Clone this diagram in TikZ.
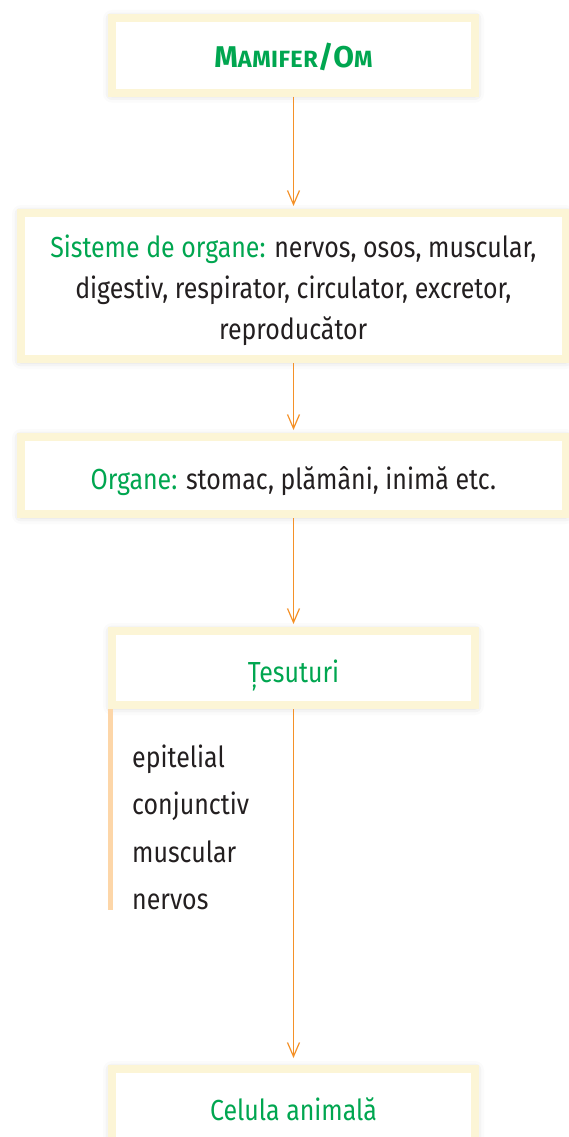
\documentclass[tikz,border=0pt]{standalone}
\usepackage{fontspec}
\setmainfont{Fira Sans}[FakeStretch=0.86]
\newfontfamily\headfont{Fira Sans}[LetterSpace=2]
\usetikzlibrary{arrows.meta,shadows.blur}
\definecolor{leaf}{RGB}{0,166,80}
\definecolor{ink}{RGB}{35,31,32}
\definecolor{frame}{RGB}{252,245,214}
\definecolor{wire}{RGB}{244,145,40}
\definecolor{peach}{RGB}{253,214,168}
\begin{document}
\begin{tikzpicture}[x=1pt,y=-1pt,
  panel/.style={draw=frame, line width=8pt, fill=white, inner sep=0pt,
    blur shadow={shadow xshift=0pt, shadow yshift=-1pt,
      shadow blur radius=9pt, shadow opacity=22}},
  txt/.style={text=ink, inner sep=0pt, anchor=base,
    font=\fontsize{29}{41}\selectfont},
  head/.style={txt, text=leaf},
  item/.style={txt, anchor=base west},
  flow/.style={draw=wire, line width=1.2pt,
    -{Straight Barb[length=14pt,width=12pt]}, shorten >=3pt}]
\useasboundingbox (0,0) rectangle (569,1137);
\clip (0,0) rectangle (569,1137);

% framed panels
\node[panel, minimum width=363pt, minimum height=74.7pt] (mam) at (293.5,55.3) {};
\node[panel, minimum width=544.5pt, minimum height=146pt] (sys) at (293.25,286) {};
\node[panel, minimum width=544.5pt, minimum height=77pt] (org) at (293.25,475.5) {};
\node[panel, minimum width=363pt, minimum height=74pt] (tis) at (293.5,668) {};
\node[panel, minimum width=363pt, minimum height=131pt] (cel) at (293.5,1134.5) {};

% side bar next to the list of tissues
\fill[peach] (tis.south west) rectangle ++(4.5,201);

% connectors
\draw[flow] (mam.south) -- (mam.south |- sys.north);
\draw[flow] (sys.south -| mam.south) -- (mam.south |- org.north);
\draw[flow] (org.south -| mam.south) -- (tis.north);
\draw[flow, shorten >=7pt] (tis.south) -- (tis.south |- cel.north);

% labels
\node[head, font=\headfont\fontsize{30}{41}\selectfont\bfseries] (mamT) at (293.5,67.3)
  {M{\fontsize{23.5}{30}\selectfont AMIFER}/O{\fontsize{23.5}{30}\selectfont M}};
\node[txt] (sys1) at (293.25,257.5) {{\color{leaf}Sisteme de organe:} nervos, osos, muscular,};
\node[txt] (sys2) at (293.25,298.5) {digestiv, respirator, circulator, excretor,};
\node[txt] (sys3) at (293.25,339.5) {reproducător};
\node[txt] (orgT) at (293.25,489) {{\color{leaf}Organe:} stomac, plămâni, inimă etc.};
\node[head] (tisT) at (293.5,682.3) {Țesuturi};
\node[item] (i1) at (132,767) {epitelial};
\node[item] (i2) at (132,814.5) {conjunctiv};
\node[item] (i3) at (132,862) {muscular};
\node[item] (i4) at (132,909) {nervos};
\node[head] (celT) at (293.5,1120) {Celula animală};
\end{tikzpicture}
\end{document}
